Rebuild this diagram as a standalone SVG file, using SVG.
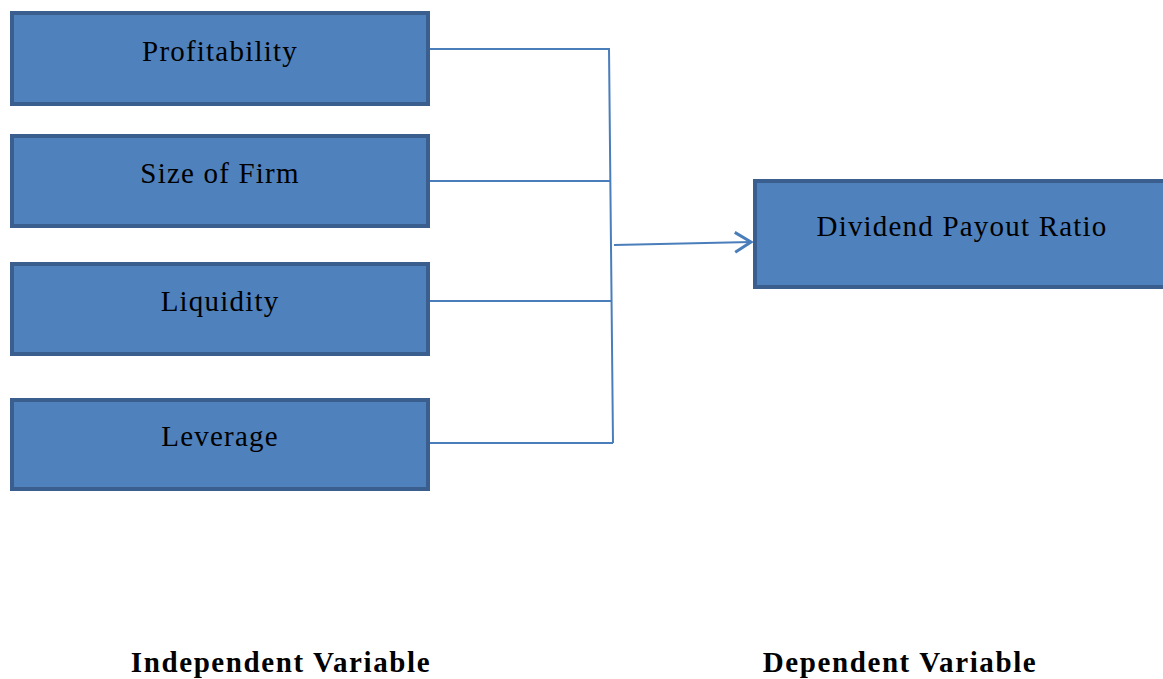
<svg xmlns="http://www.w3.org/2000/svg" width="1163" height="679" viewBox="0 0 1163 679">
<style>
.box{fill:#4F81BD;stroke:#3A5F8E;stroke-width:4}
.t{font-family:"Liberation Serif",serif;font-size:29px;letter-spacing:1.2px;fill:#000;text-anchor:middle}
.b{font-family:"Liberation Serif",serif;font-size:29px;letter-spacing:1.6px;font-weight:bold;fill:#000;text-anchor:middle}
.c{fill:none;stroke:#4A7EBB;stroke-width:2}
</style>
<defs>
<marker id="ah" markerWidth="22" markerHeight="24" refX="18" refY="12" orient="auto" markerUnits="userSpaceOnUse">
<path d="M2,2 L18,12 L2,22" fill="none" stroke="#4A7EBB" stroke-width="3"/>
</marker>
</defs>
<rect width="1163" height="679" fill="#fff"/>
<g id="connectors">
<path class="c" d="M429,49 H609 L613,443"/>
<path class="c" d="M429,181 H610"/>
<path class="c" d="M429,301 H612"/>
<path class="c" d="M429,443 H613"/>
<path class="c" d="M614,245 L751,242" stroke-width="3" marker-end="url(#ah)"/>
</g>
<g id="profitability"><rect class="box" x="12" y="13" width="416" height="91"/><text class="t" x="220" y="61">Profitability</text></g>
<g id="size"><rect class="box" x="12" y="136" width="416" height="90"/><text class="t" x="220" y="183">Size of Firm</text></g>
<g id="liquidity"><rect class="box" x="12" y="264" width="416" height="90"/><text class="t" x="220" y="311">Liquidity</text></g>
<g id="leverage"><rect class="box" x="12" y="400" width="416" height="89"/><text class="t" x="220" y="446">Leverage</text></g>
<g id="dpr"><rect class="box" x="755" y="181" width="412" height="106"/><text class="t" x="962" y="236">Dividend Payout Ratio</text></g>
<g id="labels">
<text class="b" x="281" y="672">Independent Variable</text>
<text class="b" x="900" y="672">Dependent Variable</text>
</g>
</svg>
